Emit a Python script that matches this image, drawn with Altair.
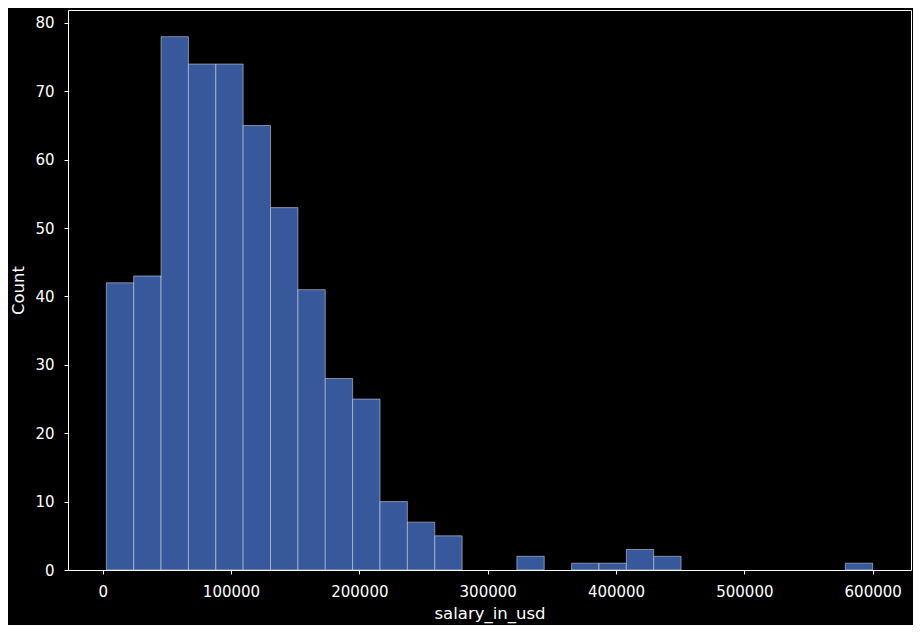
import altair as alt
import pandas as pd

bin_edges = [2859, 24185, 45512, 66838, 88165, 109491, 130818, 152144, 173471,
             194797, 216124, 237450, 258777, 280103, 301430, 322756, 344082,
             365409, 386735, 408062, 429388, 450715, 472041, 493368, 514694,
             536021, 557347, 578674, 600000]
counts = [42, 43, 78, 74, 74, 65, 53, 41, 28, 25, 10, 7, 5, 0, 0, 2, 0, 1, 1,
          3, 2, 0, 0, 0, 0, 0, 0, 1]
x_ticks = [0, 100000, 200000, 300000, 400000, 500000, 600000]
y_ticks = [0, 10, 20, 30, 40, 50, 60, 70, 80]

df = pd.DataFrame({
    "start": bin_edges[:-1],
    "end": bin_edges[1:],
    "count": counts,
})
df = df[df["count"] > 0]

chart = alt.Chart(df).mark_rect(
    fill="#37599b", fillOpacity=1, stroke="#ffffff", strokeOpacity=0.45, strokeWidth=1
).encode(
    x=alt.X("start:Q", title="salary_in_usd",
            scale=alt.Scale(domain=[-26998, 629857], nice=False, zero=False),
            axis=alt.Axis(values=x_ticks, format="d")),
    x2="end:Q",
    y=alt.Y("count:Q", title="Count",
            scale=alt.Scale(domain=[0, 81.9], nice=False),
            axis=alt.Axis(values=y_ticks)),
    y2=alt.datum(0),
).properties(
    width=843, height=560,
    autosize=alt.AutoSizeParams(type="none"),
    padding={"left": 60, "top": 2, "right": 2, "bottom": 55},
    background="#000000",
).configure_view(
    stroke="#ffffff", strokeWidth=1, fill="#000000"
).configure_axis(
    grid=False,
    domain=False,
    tickColor="#ffffff",
    tickSize=4,
    tickWidth=1,
    labelColor="#ffffff",
    labelFont="DejaVu Sans",
    labelFontSize=15,
    labelPadding=10,
    titleColor="#ffffff",
    titleFont="DejaVu Sans",
    titleFontSize=16.5,
    titleFontWeight="normal",
).configure_axisX(
    titlePadding=6,
).configure_axisY(
    titlePadding=8,
)

chart.save("out.html", embed_options={"renderer": "svg", "actions": False})
